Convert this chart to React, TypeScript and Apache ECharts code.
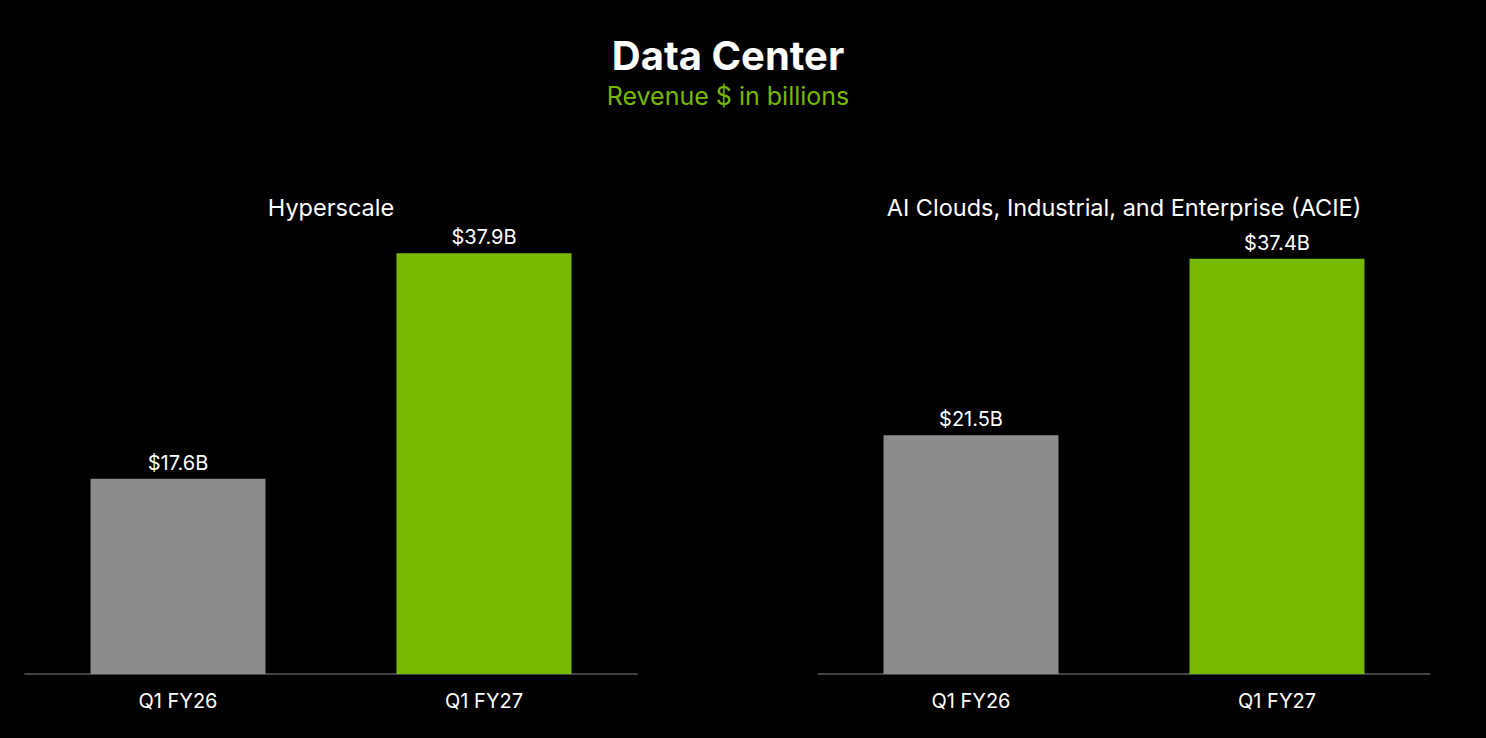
import React, { useEffect, useRef } from "react";
import * as echarts from "echarts";

const quarters = ["Q1 FY26", "Q1 FY27"];
const hyperscaleValues = [17.6, 37.9];
const acieValues = [21.5, 37.4];
const panelTitles = ["Hyperscale", "AI Clouds, Industrial, and Enterprise (ACIE)"];
const barColors = ["#8c8c8c", "#76b900"];

const FONT = "Inter, 'Noto Sans', sans-serif";

const App: React.FC = () => {
	const chartRef = useRef<HTMLDivElement>(null);

	useEffect(() => {
		if (!chartRef.current) return;
		const chart = echarts.init(chartRef.current, null, { renderer: "svg" });

		// two panels side by side, same scale
		const grids = [
			{ left: 25, width: 612, top: 230, bottom: 64 },
			{ left: 818, width: 612, top: 230, bottom: 64 },
		];

		const seriesData = [hyperscaleValues, acieValues];

		const option: echarts.EChartsOption = {
			animation: false,
			backgroundColor: "#000",
			textStyle: { fontFamily: FONT },
			graphic: [
				{
					type: "text",
					x: 728,
					y: 55,
					style: {
						text: "Data Center",
						fill: "#fff",
						font: `bold 40px ${FONT}`,
						textAlign: "center",
						textVerticalAlign: "middle",
					},
				},
				{
					type: "text",
					x: 728,
					y: 96,
					style: {
						text: "Revenue $ in billions",
						fill: "#76b900",
						font: `25px ${FONT}`,
						textAlign: "center",
						textVerticalAlign: "middle",
					},
				},
				...panelTitles.map((t, i) => ({
					type: "text" as const,
					x: grids[i].left + grids[i].width / 2,
					y: 207,
					style: {
						text: t,
						fill: "#fff",
						font: `23.5px ${FONT}`,
						textAlign: "center" as const,
						textVerticalAlign: "middle" as const,
					},
				})),
			],
			grid: grids,
			xAxis: grids.map((_, i) => ({
				type: "category" as const,
				gridIndex: i,
				data: quarters,
				axisTick: { show: false },
				axisLine: { lineStyle: { color: "#5a5a5a", width: 1.5 } },
				axisLabel: { color: "#fff", fontSize: 20, margin: 17, fontFamily: FONT },
			})),
			yAxis: grids.map((_, i) => ({
				type: "value" as const,
				gridIndex: i,
				min: 0,
				max: 40,
				show: false,
				splitLine: { show: false },
			})),
			series: seriesData.map((vals, i) => ({
				type: "bar" as const,
				xAxisIndex: i,
				yAxisIndex: i,
				barWidth: 175,
				data: vals.map((v, j) => ({ value: v, itemStyle: { color: barColors[j] } })),
				label: {
					show: true,
					position: "top" as const,
					distance: 6,
					color: "#fff",
					fontSize: 20,
					fontFamily: FONT,
					formatter: (p: any) => `$${Number(p.value).toFixed(1)}B`,
				},
			})),
		};

		chart.setOption(option);

		return () => {
			chart.dispose();
		};
	}, []);

	return (
		<div
			ref={chartRef}
			style={{ position: "fixed", left: 0, top: 0, width: "1486px", height: "738px" }}
		/>
	);
};

export default App;
